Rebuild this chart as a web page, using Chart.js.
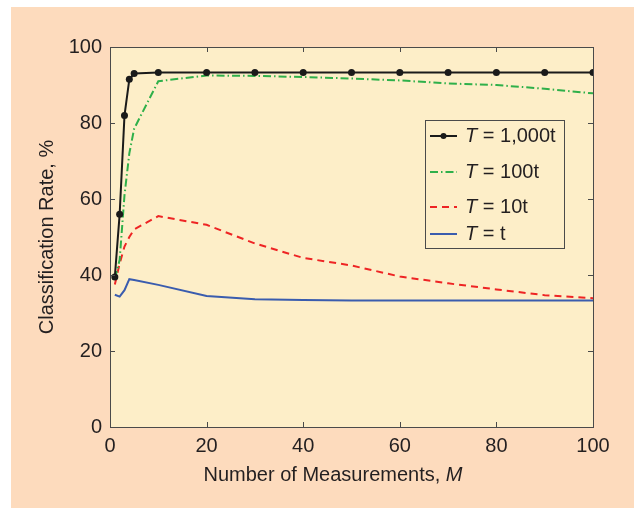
<!DOCTYPE html>
<html>
<head>
<meta charset="utf-8">
<script src="https://cdn.jsdelivr.net/npm/chart.js@4/dist/chart.umd.min.js"></script>
<style>
  html, body { margin: 0; padding: 0; background: #ffffff; }
  #wrap { width: 634px; height: 508px; }
</style>
</head>
<body>
<div id="wrap"><canvas id="rateChart" width="634" height="508"></canvas></div>
<script>
// Datos
const measurements = [1, 2, 3, 4, 5, 10, 20, 30, 40, 50, 60, 70, 80, 90, 100];
const rateT1000 = [39.5, 56, 82, 91.5, 93, 93.3, 93.3, 93.3, 93.3, 93.3, 93.3, 93.3, 93.3, 93.3, 93.3];
const rateT100 = [39, 44, 61, 72, 78.5, 91, 92.5, 92.4, 92.1, 91.7, 91.2, 90.4, 90, 89, 87.8];
const rateT10 = [37.5, 43, 47.5, 50, 52, 55.5, 53.2, 48.3, 44.5, 42.5, 39.6, 37.8, 36.2, 34.7, 33.9];
const rateT1 = [34.8, 34.3, 36, 38.9, 38.7, 37.4, 34.5, 33.6, 33.4, 33.3, 33.3, 33.3, 33.3, 33.3, 33.3];
const xTicks = [0, 20, 40, 60, 80, 100];
const yTicks = [0, 20, 40, 60, 80, 100];
const legendSuffixes = [' = 1,000t', ' = 100t', ' = 10t', ' = t'];

const FONT = '"Liberation Sans", Arial, Helvetica, sans-serif';
const FONT_SIZE = 20;
const TEXT = '#231f20';
const PEACH = '#fddbbd';
const PLOT_BG = '#fdeec8';
const FRAME = '#4a4a4a';

const toPoints = (ys) => measurements.map((x, i) => ({ x: x, y: ys[i] }));

const series = [
    { data: rateT1000, color: '#1a1a1a', dash: [], points: 3.5 },
    { data: rateT100, color: '#2fb04a', dash: [8, 3, 1.5, 3], points: 0 },
    { data: rateT10, color: '#ee2424', dash: [7, 5], points: 0 },
    { data: rateT1, color: '#3a5cae', dash: [], points: 0 }
];

// Fondo y marco
const backgroundPlugin = {
    id: 'panelBackground',
    beforeDraw(chart) {
        const ctx = chart.ctx;
        const a = chart.chartArea;
        ctx.save();
        ctx.fillStyle = PEACH;
        ctx.fillRect(11, 7, chart.width - 11, chart.height - 7);
        ctx.fillStyle = PLOT_BG;
        ctx.fillRect(a.left, a.top, a.right - a.left, a.bottom - a.top);
        ctx.restore();
    }
};

const framePlugin = {
    id: 'frameAndTitles',
    afterDraw(chart) {
        const ctx = chart.ctx;
        const a = chart.chartArea;
        const xs = chart.scales.x;
        const ys = chart.scales.y;
        ctx.save();

        // marco y ticks hacia dentro
        ctx.strokeStyle = FRAME;
        ctx.lineWidth = 1;
        ctx.strokeRect(Math.round(a.left) + 0.5, Math.round(a.top) + 0.5,
            Math.round(a.right - a.left), Math.round(a.bottom - a.top));
        ctx.beginPath();
        xTicks.forEach(v => {
            const px = Math.round(xs.getPixelForValue(v)) + 0.5;
            ctx.moveTo(px, a.bottom); ctx.lineTo(px, a.bottom - 5);
            ctx.moveTo(px, a.top); ctx.lineTo(px, a.top + 5);
        });
        yTicks.forEach(v => {
            const py = Math.round(ys.getPixelForValue(v)) + 0.5;
            ctx.moveTo(a.left, py); ctx.lineTo(a.left + 5, py);
            ctx.moveTo(a.right, py); ctx.lineTo(a.right - 5, py);
        });
        ctx.stroke();

        // titulos de ejes
        ctx.fillStyle = TEXT;
        ctx.textBaseline = 'middle';
        const normal = FONT_SIZE + 'px ' + FONT;
        const italic = 'italic ' + FONT_SIZE + 'px ' + FONT;
        ctx.font = normal;
        const xPart = 'Number of Measurements, ';
        const wA = ctx.measureText(xPart).width;
        ctx.font = italic;
        const wB = ctx.measureText('M').width;
        let startX = 333 - (wA + wB) / 2;
        ctx.textAlign = 'left';
        ctx.font = normal;
        ctx.fillText(xPart, startX, 475);
        ctx.font = italic;
        ctx.fillText('M', startX + wA, 475);

        ctx.save();
        ctx.translate(47, (a.top + a.bottom) / 2);
        ctx.rotate(-Math.PI / 2);
        ctx.textAlign = 'center';
        ctx.font = normal;
        ctx.fillText('Classification Rate, %', 0, 0);
        ctx.restore();

        // leyenda
        const box = { x: 425.5, y: 120.5, w: 139, h: 128 };
        ctx.fillStyle = PLOT_BG;
        ctx.fillRect(box.x, box.y, box.w, box.h);
        ctx.strokeStyle = FRAME;
        ctx.strokeRect(box.x, box.y, box.w, box.h);
        const rows = [136, 172, 207, 234];
        series.forEach((s, i) => {
            const y = rows[i];
            ctx.strokeStyle = s.color;
            ctx.lineWidth = 2;
            ctx.setLineDash(s.dash);
            ctx.beginPath();
            ctx.moveTo(430, y); ctx.lineTo(457, y);
            ctx.stroke();
            ctx.setLineDash([]);
            if (s.points) {
                ctx.fillStyle = s.color;
                ctx.beginPath();
                ctx.arc(443.5, y, 3, 0, Math.PI * 2);
                ctx.fill();
            }
            ctx.fillStyle = TEXT;
            ctx.font = italic;
            ctx.fillText('T', 465, y);
            const wT = ctx.measureText('T').width;
            ctx.font = normal;
            ctx.fillText(legendSuffixes[i], 465 + wT, y);
        });
        ctx.restore();
    }
};

const config = {
    type: 'line',
    data: {
        datasets: series.map(s => ({
            data: toPoints(s.data),
            borderColor: s.color,
            backgroundColor: s.color,
            borderWidth: 2,
            borderDash: s.dash,
            pointRadius: s.points,
            pointBorderWidth: 0,
            pointBackgroundColor: s.color,
            tension: 0,
            fill: false
        }))
    },
    options: {
        responsive: false,
        animation: false,
        layout: { padding: { top: 47, right: 41, left: 0, bottom: 0 } },
        plugins: {
            legend: { display: false },
            tooltip: { enabled: false }
        },
        scales: {
            x: {
                type: 'linear',
                min: 0,
                max: 100,
                grid: { display: false, drawTicks: false },
                border: { display: false },
                afterFit(scale) { scale.height = 81; },
                afterBuildTicks(scale) { scale.ticks = xTicks.map(v => ({ value: v })); },
                ticks: {
                    padding: 7,
                    color: TEXT,
                    font: { size: FONT_SIZE, family: FONT },
                    maxRotation: 0
                }
            },
            y: {
                min: 0,
                max: 100,
                grid: { display: false, drawTicks: false },
                border: { display: false },
                afterFit(scale) { scale.width = 110; },
                afterBuildTicks(scale) { scale.ticks = yTicks.map(v => ({ value: v })); },
                ticks: {
                    padding: 8,
                    color: TEXT,
                    font: { size: FONT_SIZE, family: FONT }
                }
            }
        }
    },
    plugins: [backgroundPlugin, framePlugin]
};

new Chart(document.getElementById('rateChart'), config);
</script>
</body>
</html>
